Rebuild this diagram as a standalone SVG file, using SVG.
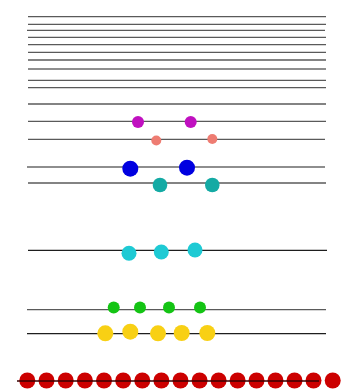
<svg xmlns="http://www.w3.org/2000/svg" width="347" height="389" viewBox="0 0 347 389">
<style>
.l{stroke:#5a5a5a;stroke-width:1.3}
.d{stroke:#1e1e1e;stroke-width:1.2}
</style>
<rect width="347" height="389" fill="#fff"/>
<g id="connectors">
<line class="l" x1="28" y1="16.7" x2="326" y2="16.7"/>
<line class="l" x1="28" y1="24.3" x2="326" y2="24.3"/>
<line class="l" x1="27" y1="30.3" x2="325" y2="30.3"/>
<line class="l" x1="28" y1="37.3" x2="326" y2="37.3"/>
<line class="l" x1="28" y1="44.7" x2="326" y2="44.7"/>
<line class="l" x1="28" y1="52.3" x2="326" y2="52.3"/>
<line class="l" x1="28" y1="60" x2="326" y2="60"/>
<line class="d" x1="28" y1="69" x2="326" y2="69"/>
<line class="l" x1="28" y1="80.3" x2="326" y2="80.3"/>
<line class="l" x1="28" y1="87.7" x2="326" y2="87.7"/>
<line class="l" x1="28" y1="104" x2="326" y2="104"/>
<line class="l" x1="28" y1="121.3" x2="326" y2="121.3"/>
<line class="l" x1="28" y1="139.3" x2="325" y2="139.3"/>
<line class="d" x1="27" y1="167" x2="325" y2="167"/>
<line class="l" x1="28" y1="183" x2="326" y2="183"/>
<line class="d" x1="28" y1="250.3" x2="327" y2="250.3"/>
<line class="l" x1="27" y1="309.7" x2="326" y2="309.7"/>
<line class="d" x1="27" y1="333.7" x2="326" y2="333.7"/>
</g>
<g id="magenta" fill="#c010c0">
<circle cx="138" cy="122" r="6"/>
<circle cx="190.7" cy="122" r="6"/>
</g>
<g id="salmon" fill="#ee7c72">
<circle cx="156.3" cy="140.5" r="5"/>
<circle cx="212.3" cy="139" r="5"/>
</g>
<g id="blue" fill="#0000e0">
<circle cx="130.3" cy="168.7" r="8"/>
<circle cx="187" cy="167.7" r="8"/>
</g>
<g id="teal" fill="#14aaa4">
<circle cx="160" cy="185" r="7.3"/>
<circle cx="212.3" cy="185" r="7.3"/>
</g>
<g id="cyan" fill="#1ecad4">
<circle cx="129" cy="253.3" r="7.5"/>
<circle cx="161.3" cy="252" r="7.5"/>
<circle cx="195" cy="250" r="7.5"/>
</g>
<g id="green" fill="#14c414">
<circle cx="113.7" cy="307.5" r="6"/>
<circle cx="140" cy="307.5" r="6"/>
<circle cx="169" cy="307.5" r="6"/>
<circle cx="200" cy="307.5" r="6"/>
</g>
<g id="yellow" fill="#f8d014">
<circle cx="105.3" cy="333.3" r="8"/>
<circle cx="130.3" cy="331.7" r="8"/>
<circle cx="158" cy="333.3" r="8"/>
<circle cx="181.7" cy="333" r="8"/>
<circle cx="207.3" cy="333" r="8"/>
</g>
<g id="red" fill="#cc0000">
<circle cx="27.3" cy="380.5" r="8"/>
<circle cx="46.5" cy="380.5" r="8"/>
<circle cx="65.7" cy="380.5" r="8"/>
<circle cx="84.9" cy="380.5" r="8"/>
<circle cx="104" cy="380.5" r="8"/>
<circle cx="123.2" cy="380.5" r="8"/>
<circle cx="142.3" cy="380.5" r="8"/>
<circle cx="161.4" cy="380.5" r="8"/>
<circle cx="180.5" cy="380.5" r="8"/>
<circle cx="199.6" cy="380.5" r="8"/>
<circle cx="218.6" cy="380.5" r="8"/>
<circle cx="237.6" cy="380.5" r="8"/>
<circle cx="256.5" cy="380.5" r="8"/>
<circle cx="275.5" cy="380.5" r="8"/>
<circle cx="294.5" cy="380.5" r="8"/>
<circle cx="313.5" cy="380.5" r="8"/>
<circle cx="332.7" cy="380.5" r="8"/>
</g>
<g id="red-line"><line x1="17" y1="381" x2="319" y2="381" stroke="#3a0000" stroke-width="1.3"/></g>
</svg>
